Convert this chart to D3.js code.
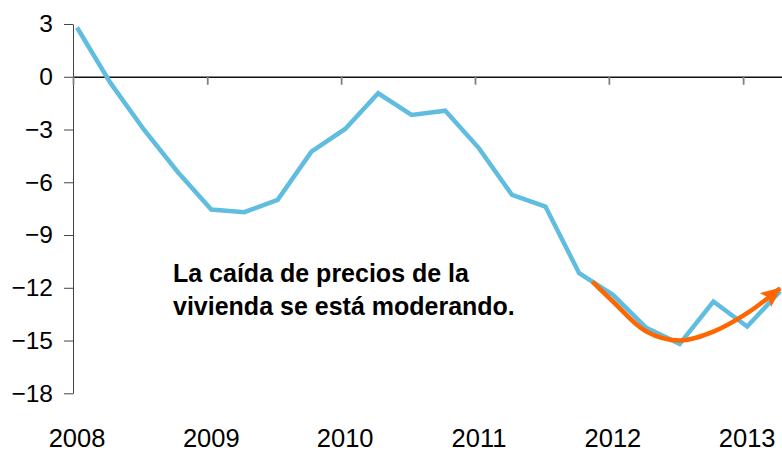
<!DOCTYPE html>
<html>
<head>
<meta charset="utf-8">
<script src="https://cdn.jsdelivr.net/npm/d3@7"></script>
<style>
  body { margin: 0; background: #fff; }
  text { font-family: "Liberation Sans", Arial, sans-serif; }
</style>
</head>
<body>
<div id="chart"></div>
<script>
// quarterly observations (plotted a little after the quarter start)
const quarterDates = [
  "2008-01-12", "2008-04-12", "2008-07-12", "2008-10-12",
  "2009-01-12", "2009-04-12", "2009-07-12", "2009-10-12",
  "2010-01-12", "2010-04-12", "2010-07-12", "2010-10-12",
  "2011-01-12", "2011-04-12", "2011-07-12", "2011-10-12",
  "2012-01-12", "2012-04-12", "2012-07-12", "2012-10-12",
  "2013-01-12", "2013-04-12"
];
const priceChange = [
  2.8, -0.35, -3.0, -5.4,
  -7.55, -7.7, -7.0, -4.26,
  -2.97, -0.94, -2.17, -1.93,
  -4.07, -6.72, -7.38, -11.17,
  -12.4, -14.28, -15.19, -12.78,
  -14.2, -12.2
];

// orange trend arrow
const trendDates = ["2011-11-17", "2012-01-12", "2012-04-12", "2012-07-12", "2012-10-12", "2013-01-12", "2013-04-12"];
const trendValues = [-11.65, -12.78, -14.49, -15.0, -14.49, -13.44, -12.02];

const yearLabels = ["2008", "2009", "2010", "2011", "2012", "2013"];
const yTicks = [3, 0, -3, -6, -9, -12, -15, -18];

const annotation = ["La caída de precios de la", "vivienda se está moderando."];

const W = 782, H = 450;
const parse = d3.timeParse("%Y-%m-%d");

const svg = d3.select("#chart")
  .append("svg")
    .attr("width", W)
    .attr("height", H);

// scales
const x = d3.scaleTime()
  .domain([new Date(2008, 0, 1), new Date(2014, 0, 1)])
  .range([73, 73 + 6 * 134]);

const y = d3.scaleLinear()
  .domain([-18, 3])
  .range([393.3, 24]);

// y axis
const yAxis = svg.append("g")
  .attr("transform", "translate(73,0)")
  .call(d3.axisLeft(y).tickValues(yTicks).tickSize(9).tickSizeOuter(0).tickPadding(11));
yAxis.select(".domain").attr("stroke", "#444").attr("stroke-width", 1);
yAxis.selectAll(".tick line").attr("stroke", "#444");
yAxis.selectAll(".tick text")
  .attr("font-size", 24.5)
  .attr("fill", "#000")
  .style("font-family", "'Liberation Sans', Arial, sans-serif");

// x axis sits on zero
const yearStarts = yearLabels.map(d => new Date(+d, 0, 1));
const xAxis = svg.append("g")
  .attr("transform", `translate(0,${y(0)})`)
  .call(d3.axisBottom(x).tickValues(yearStarts).tickFormat("").tickSize(8).tickSizeOuter(0));
xAxis.select(".domain").attr("stroke", "#111").attr("stroke-width", 1.5);
xAxis.selectAll(".tick line").attr("stroke", "#808080").attr("stroke-width", 1.8);

// year labels at the bottom
svg.append("g")
  .selectAll("text")
  .data(yearLabels)
  .join("text")
    .attr("x", d => x(parse(d + "-01-12")))
    .attr("y", 446.5)
    .attr("text-anchor", "middle")
    .attr("font-size", 25.5)
    .attr("fill", "#000")
    .text(d => d);

// main line
const data = quarterDates.map((d, i) => ({ date: parse(d), value: priceChange[i] }));
const line = d3.line()
  .x(d => x(d.date))
  .y(d => y(d.value));

svg.append("path")
  .datum(data)
  .attr("fill", "none")
  .attr("stroke", "#60bddf")
  .attr("stroke-width", 4.5)
  .attr("stroke-linejoin", "miter")
  .attr("d", line);

// trend arrow
svg.append("defs").append("marker")
    .attr("id", "arrow")
    .attr("markerUnits", "userSpaceOnUse")
    .attr("viewBox", "0 0 20 18")
    .attr("markerWidth", 20)
    .attr("markerHeight", 18)
    .attr("refX", 19)
    .attr("refY", 9)
    .attr("orient", "auto")
  .append("path")
    .attr("d", "M0,0 L20,9 L0,18 L4,9 Z")
    .attr("fill", "#ff6600");

const trend = trendDates.map((d, i) => ({ date: parse(d), value: trendValues[i] }));
svg.append("path")
  .datum(trend)
  .attr("fill", "none")
  .attr("stroke", "#ff6600")
  .attr("stroke-width", 4.5)
  .attr("marker-end", "url(#arrow)")
  .attr("d", line.curve(d3.curveCatmullRom.alpha(0.5)));

// annotation
svg.append("g")
  .selectAll("text")
  .data(annotation)
  .join("text")
    .attr("x", 173)
    .attr("y", (d, i) => 282 + i * 33)
    .attr("font-size", 25)
    .attr("font-weight", "bold")
    .attr("fill", "#000")
    .text(d => d);
</script>
</body>
</html>
